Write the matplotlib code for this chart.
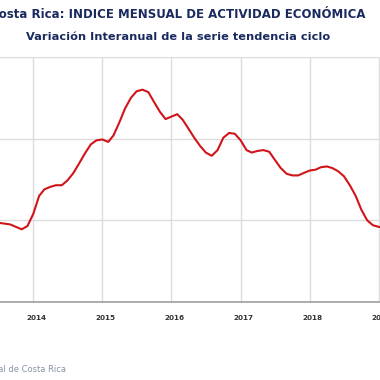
import matplotlib
matplotlib.use("Agg")
import matplotlib.pyplot as plt
import matplotlib.dates as mdates
import matplotlib.transforms as mtransforms
import pandas as pd
import datetime as dt

title = "Costa Rica: INDICE MENSUAL DE ACTIVIDAD ECONÓMICA"
subtitle = "Variación Interanual de la serie tendencia ciclo"
source = "Fuente: Banco Central de Costa Rica"

start_month = "2013-06"
values = [2.97, 2.97, 2.96, 2.95, 2.92, 2.89, 2.93,
          3.08, 3.30, 3.38, 3.41, 3.43, 3.43, 3.49, 3.58, 3.70, 3.82, 3.93, 3.98,
          3.99, 3.96, 4.04, 4.20, 4.37, 4.50, 4.58, 4.60, 4.57, 4.45, 4.33, 4.24,
          4.27, 4.30, 4.23, 4.12, 4.01, 3.91, 3.83, 3.79, 3.86, 4.01, 4.07, 4.06,
          3.98, 3.86, 3.83, 3.85, 3.86, 3.84, 3.74, 3.64, 3.57, 3.55, 3.55, 3.58,
          3.61, 3.62, 3.65, 3.66, 3.64, 3.60, 3.54, 3.43, 3.30, 3.13, 3.00, 2.94,
          2.92, 2.91]
year_ticks = [2014, 2015, 2016, 2017, 2018, 2019]
y_ticks = [2, 3, 4, 5]

dates = pd.date_range(start_month, periods=len(values), freq="MS")

fig = plt.figure(figsize=(3.8, 3.8), dpi=100)
ax = fig.add_axes([0, (380 - 302) / 380, 1, (302 - 57) / 380])

ax.plot(dates, values, color="#d0141a", lw=1.5, solid_joinstyle="round",
        solid_capstyle="round", zorder=3)

ref = mdates.date2num(dt.datetime(2014, 1, 1))
px_per_day = 69.1 / 365.25
ax.set_xlim(ref - 33.3 / px_per_day, ref + (380 - 33.3) / px_per_day)
ax.set_ylim(2, 5)

ax.set_xticks([dt.datetime(y, 1, 1) for y in year_ticks])
ax.set_xticklabels([str(y) for y in year_ticks])
ax.set_yticks(y_ticks)
ax.tick_params(axis="y", left=False, labelleft=False)
ax.tick_params(axis="x", length=0, pad=9, labelsize=5.2, labelcolor="#333333")
for lab in ax.get_xticklabels():
    lab.set_fontweight("bold")
    lab.set_transform(lab.get_transform() + mtransforms.ScaledTranslation(3 / 100, 0, fig.dpi_scale_trans))

ax.grid(True, color="#dcdcdc", lw=1.0)
ax.set_axisbelow(True)
for s in ["left", "right", "top"]:
    ax.spines[s].set_visible(False)
ax.spines["bottom"].set_color("#a0a0a0")
ax.spines["bottom"].set_linewidth(1.2)

fig.text(178 / 380, 1 - 15 / 380, title, ha="center", va="center",
         fontsize=8.5, fontweight="bold", color="#1a2a5e")
fig.text(178 / 380, 1 - 37 / 380, subtitle, ha="center", va="center",
         fontsize=8.2, fontweight="bold", color="#1a2a5e")
fig.text(66 / 380, 1 - 369 / 380, source, ha="right", va="center",
         fontsize=6, color="#8a93a8")

fig.savefig("out.png", dpi=100)
